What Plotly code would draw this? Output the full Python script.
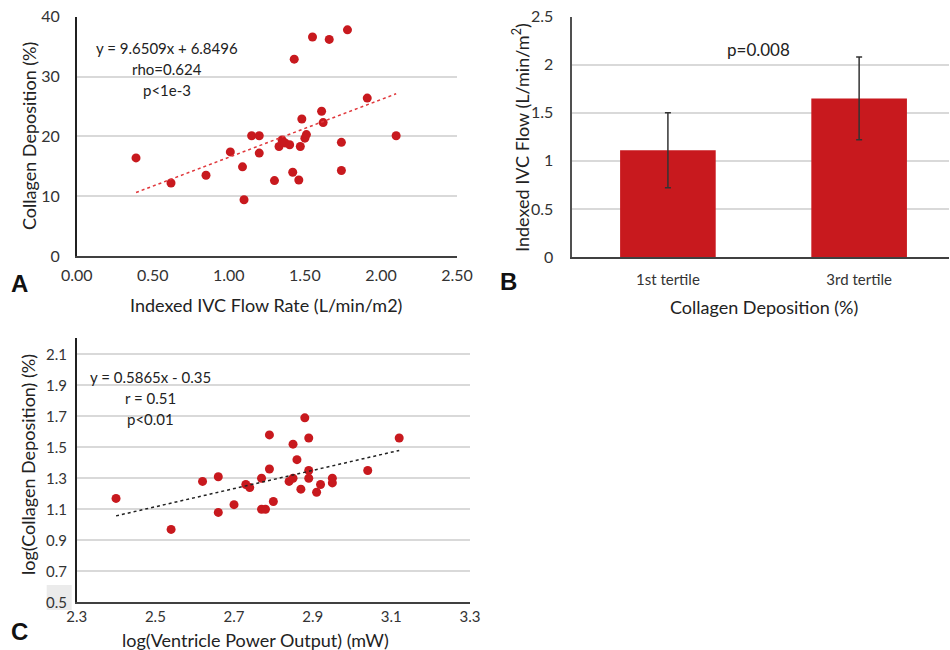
import plotly.graph_objects as go

# ---------------- data ----------------
# Panel A: Indexed IVC flow rate vs collagen deposition
a_flow = [0.39, 0.62, 0.85, 1.01, 1.09, 1.10, 1.15, 1.20, 1.20, 1.30,
          1.33, 1.35, 1.37, 1.40, 1.42, 1.43, 1.46, 1.47, 1.48, 1.50,
          1.51, 1.55, 1.61, 1.62, 1.66, 1.74, 1.74, 1.78, 1.91, 2.10]
a_collagen = [16.4, 12.2, 13.5, 17.4, 14.9, 9.4, 20.1, 20.1, 17.2, 12.6,
              18.3, 19.4, 18.9, 18.6, 14.0, 32.9, 12.7, 18.3, 22.9, 19.7,
              20.3, 36.6, 24.2, 22.3, 36.2, 19.0, 14.3, 37.8, 26.4, 20.1]
a_slope, a_intercept = 9.6509, 6.8496
a_stats = ["y = 9.6509x + 6.8496", "rho=0.624", "p<1e-3"]
a_xticks = [0.0, 0.5, 1.0, 1.5, 2.0, 2.5]
a_yticks = [0, 10, 20, 30, 40]

# Panel B: tertiles
b_categories = ["1st tertile", "3rd tertile"]
b_values = [1.11, 1.65]
b_errors = [0.39, 0.43]
b_pvalue = "p=0.008"
b_yticks = [0, 0.5, 1, 1.5, 2, 2.5]

# Panel C: log ventricle power output vs log collagen deposition
c_power = [2.40, 2.54, 2.62, 2.66, 2.66, 2.70, 2.73, 2.74, 2.77, 2.77,
           2.78, 2.79, 2.79, 2.80, 2.84, 2.85, 2.85, 2.86, 2.87, 2.88,
           2.89, 2.89, 2.89, 2.91, 2.92, 2.95, 2.95, 3.04, 3.12]
c_collagen = [1.17, 0.97, 1.28, 1.31, 1.08, 1.13, 1.26, 1.24, 1.30, 1.10,
              1.10, 1.58, 1.36, 1.15, 1.28, 1.52, 1.30, 1.42, 1.23, 1.69,
              1.56, 1.35, 1.30, 1.21, 1.26, 1.30, 1.27, 1.35, 1.56]
c_slope, c_intercept = 0.5865, -0.35
c_stats = ["y = 0.5865x - 0.35", "r = 0.51", "p<0.01"]
c_xticks = [2.3, 2.5, 2.7, 2.9, 3.1, 3.3]
c_yticks = [0.5, 0.7, 0.9, 1.1, 1.3, 1.5, 1.7, 1.9, 2.1]

# ---------------- styling ----------------
W, H = 950, 650
RED = "#C8191E"
FONT = "Lato"
TXT = "#222222"
GRID = "#D9D9D9"


def px(x):
    return x / W


def py(y):
    return 1 - y / H


fig = go.Figure()

# Panel A
fig.add_trace(go.Scatter(x=a_flow, y=a_collagen, mode="markers",
                         marker=dict(color=RED, size=9), xaxis="x", yaxis="y",
                         showlegend=False))
ax0, ax1 = min(a_flow), max(a_flow)
fig.add_trace(go.Scatter(x=[ax0, ax1],
                         y=[a_slope * ax0 + a_intercept, a_slope * ax1 + a_intercept],
                         mode="lines", line=dict(color="#E0373B", width=1.5, dash="dot"),
                         xaxis="x", yaxis="y", showlegend=False))

# Panel B
fig.add_trace(go.Bar(x=b_categories, y=b_values, width=0.5,
                     marker=dict(color=RED, line=dict(width=0)),
                     error_y=dict(type="data", array=b_errors, color="#333333",
                                  thickness=1.5, width=3),
                     xaxis="x2", yaxis="y2", showlegend=False))

# Panel C
fig.add_trace(go.Scatter(x=c_power, y=c_collagen, mode="markers",
                         marker=dict(color=RED, size=9), xaxis="x3", yaxis="y3",
                         showlegend=False))
cx0, cx1 = min(c_power), max(c_power)
fig.add_trace(go.Scatter(x=[cx0, cx1],
                         y=[c_slope * cx0 + c_intercept, c_slope * cx1 + c_intercept],
                         mode="lines", line=dict(color="#222222", width=1.5, dash="dot"),
                         xaxis="x3", yaxis="y3", showlegend=False))

tickfont = dict(family=FONT, size=16, color="#333333")
tickfont_c = dict(family=FONT, size=15, color="#333333")

fig.update_layout(
    width=W, height=H,
    margin=dict(l=0, r=0, t=0, b=0),
    paper_bgcolor="white", plot_bgcolor="white",
    font=dict(family=FONT, color=TXT),
    xaxis=dict(domain=[px(76.7), px(457)], range=[0, 2.5], tickvals=a_xticks,
               tickformat=".2f", showgrid=False, zeroline=False,
               showline=True, linecolor="#404040", linewidth=1.5,
               tickfont=tickfont, ticks="", ticklabelstandoff=4,
               anchor="y", automargin=False),
    yaxis=dict(domain=[py(256), py(16.7)], range=[0, 40], tickvals=a_yticks,
               showgrid=True, gridcolor=GRID, gridwidth=1.5, zeroline=False,
               showline=True, linecolor="#202020", linewidth=1.5,
               tickfont=tickfont, ticks="", ticklabelstandoff=12,
               anchor="x", automargin=False),
    xaxis2=dict(domain=[px(572.3), px(949)], range=[-0.5, 1.47],
                showgrid=False, zeroline=False,
                showline=True, linecolor="#404040", linewidth=1.5,
                tickfont=dict(family=FONT, size=15, color="#333333"),
                ticks="", ticklabelstandoff=8,
                anchor="y2", automargin=False),
    yaxis2=dict(domain=[py(257), py(16.7)], range=[0, 2.5], tickvals=b_yticks,
                showgrid=True, gridcolor=GRID, gridwidth=1.5, zeroline=False,
                showline=True, linecolor="#505050", linewidth=1.5,
                tickfont=tickfont, ticks="", ticklabelstandoff=14,
                anchor="x2", automargin=False),
    xaxis3=dict(domain=[px(76.7), px(470)], range=[2.3, 3.3], tickvals=c_xticks,
                tickformat=".1f", showgrid=False, zeroline=False,
                showline=True, linecolor="#404040", linewidth=1.5,
                tickfont=tickfont_c, ticks="", ticklabelstandoff=0,
                anchor="y3", automargin=False),
    yaxis3=dict(domain=[py(602.3), py(338)], range=[0.5, 2.205], tickvals=c_yticks,
                tickformat=".1f", showgrid=True, gridcolor=GRID, gridwidth=1.5,
                zeroline=False, showline=True, linecolor="#202020", linewidth=1.5,
                tickfont=tickfont_c, ticks="", ticklabelstandoff=5,
                anchor="x3", automargin=False),
    bargap=0.5,
)

# light grey box behind the 0.5 label in panel C
fig.add_shape(type="rect", xref="paper", yref="paper",
              x0=px(46.7), x1=px(71.7), y0=py(610), y1=py(585),
              fillcolor="#EBEBEB", line=dict(width=0), layer="below")

annotations = []


def add_text(text, x, y, size, angle=0, bold=False, family=FONT, color=TXT):
    annotations.append(dict(text=f"<b>{text}</b>" if bold else text,
                            x=px(x), y=py(y), xref="paper", yref="paper",
                            xanchor="center", yanchor="middle", showarrow=False,
                            textangle=angle,
                            font=dict(family=family, size=size, color=color)))


# axis titles
add_text("Collagen Deposition (%)", 29, 136, 18, angle=-90)
add_text("Indexed IVC Flow Rate (L/min/m2)", 266, 305, 18)
add_text("Indexed IVC Flow (L/min/m<sup>2</sup>)", 521, 138, 18, angle=-90)
add_text("Collagen Deposition (%)", 764, 307, 18)
add_text("log(Collagen Deposition) (%)", 28, 465, 18, angle=-90)
add_text("log(Ventricle Power Output) (mW)", 255, 640, 18)

# statistics
for i, s in enumerate(a_stats):
    add_text(s, 167, 48 + i * 21, 15)
for i, s in enumerate(c_stats):
    add_text(s, 150, 377 + i * 21, 15)
add_text(b_pvalue, 758, 50, 17)

# panel letters
add_text("A", 19, 283, 24, bold=True, family="Liberation Sans", color="#111111")
add_text("B", 509, 282, 24, bold=True, family="Liberation Sans", color="#111111")
add_text("C", 19, 631, 24, bold=True, family="Liberation Sans", color="#111111")

fig.update_layout(annotations=annotations)

fig.write_html("out.html",
               config={"displayModeBar": False},
               post_script="document.body.style.margin='0px';"
                           "document.body.style.overflow='hidden';")
